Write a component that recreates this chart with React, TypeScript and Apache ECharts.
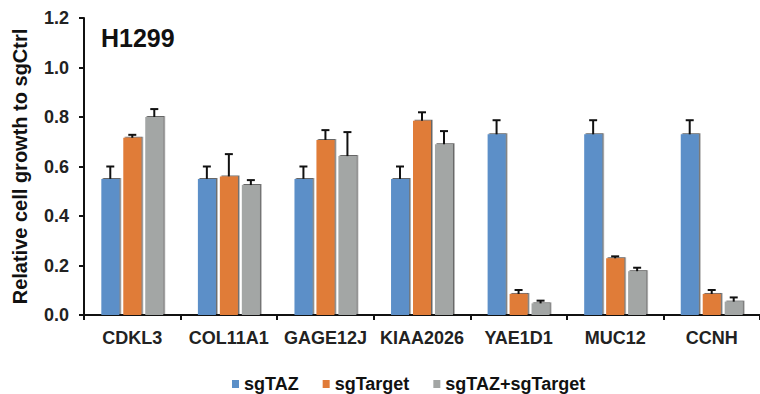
import React, { useEffect, useRef } from "react";
import * as echarts from "echarts";

const categories = ["CDKL3", "COL11A1", "GAGE12J", "KIAA2026", "YAE1D1", "MUC12", "CCNH"];
const seriesNames = ["sgTAZ", "sgTarget", "sgTAZ+sgTarget"];
const colors = ["#5B8FC8", "#E07B39", "#A3A6A5"];

// mean values
const sgTAZ = [0.55, 0.55, 0.55, 0.55, 0.73, 0.73, 0.73];
const sgTarget = [0.716, 0.56, 0.707, 0.785, 0.085, 0.229, 0.085];
const sgCombo = [0.80, 0.525, 0.642, 0.69, 0.047, 0.177, 0.054];

// upper error (SD)
const errTAZ = [0.05, 0.05, 0.05, 0.05, 0.057, 0.057, 0.057];
const errTarget = [0.012, 0.09, 0.04, 0.034, 0.016, 0.008, 0.016];
const errCombo = [0.032, 0.02, 0.097, 0.053, 0.011, 0.014, 0.017];

const yTicks = [0, 0.2, 0.4, 0.6, 0.8, 1.0, 1.2];

const BAR_W = 18;
const BAR_STEP = 22;

export default function App() {
  const ref = useRef<HTMLDivElement>(null);
  useEffect(() => {
    if (!ref.current) return;
    const chart = echarts.init(ref.current, null, { renderer: "svg" });
    const means = [sgTAZ, sgTarget, sgCombo];
    const errs = [errTAZ, errTarget, errCombo];
    const font = "'Liberation Sans', Arial, sans-serif";

    const barSeries = means.map((vals, i) => ({
      name: seriesNames[i],
      type: "bar",
      data: vals,
      barWidth: BAR_W,
      barGap: "22%",
      itemStyle: {
        color: colors[i],
        shadowColor: "rgba(0,0,0,0.6)",
        shadowOffsetX: 1.5,
        shadowOffsetY: -1,
        shadowBlur: 1,
      },
      z: 2,
    }));

    const errSeries = means.map((vals, i) => ({
      name: seriesNames[i],
      type: "custom",
      data: vals.map((v, k) => [k, v, v + errs[i][k]]),
      z: 3,
      renderItem: (params: any, api: any) => {
        const k = api.value(0);
        const lo = api.coord([k, api.value(1)]);
        const hi = api.coord([k, api.value(2)]);
        const x = lo[0] + (i - 1) * BAR_STEP;
        const style = { stroke: "#111", lineWidth: 2 };
        return {
          type: "group",
          children: [
            { type: "line", shape: { x1: x, y1: lo[1], x2: x, y2: hi[1] }, style },
            { type: "line", shape: { x1: x - 4, y1: hi[1], x2: x + 4, y2: hi[1] }, style },
          ],
        };
      },
    }));

    chart.setOption({
      animation: false,
      textStyle: { fontFamily: font },
      grid: { left: 84, top: 18, bottom: 79, width: 682 },
      title: {
        text: "H1299",
        left: 96,
        top: 20,
        textStyle: { fontSize: 25, fontWeight: "bold", color: "#111", fontFamily: font },
      },
      legend: {
        top: 375,
        left: 232,
        padding: 0,
        itemWidth: 7,
        itemHeight: 8,
        itemGap: 24,
        icon: "rect",
        data: seriesNames,
        textStyle: { fontSize: 18, fontWeight: "bold", color: "#111", fontFamily: font },
      },
      xAxis: {
        type: "category",
        data: categories,
        axisLine: { lineStyle: { color: "#111", width: 2 } },
        axisTick: { show: true, length: 5, lineStyle: { color: "#111", width: 2 } },
        axisLabel: { interval: 0, fontSize: 18, fontWeight: "bold", color: "#222", margin: 14, fontFamily: font },
      },
      yAxis: {
        type: "value",
        min: 0,
        max: 1.2,
        interval: 0.2,
        name: "Relative cell growth to sgCtrl",
        nameLocation: "middle",
        nameGap: 54,
        nameTextStyle: { fontSize: 20, fontWeight: "bold", color: "#111", fontFamily: font },
        axisLine: { show: true, lineStyle: { color: "#111", width: 2 } },
        axisTick: { show: true, length: 5, lineStyle: { color: "#111", width: 2 } },
        splitLine: { show: false },
        axisLabel: {
          fontSize: 18,
          fontWeight: "bold",
          color: "#222",
          margin: 15,
          fontFamily: font,
          formatter: (v: number) => (yTicks.some((t) => Math.abs(t - v) < 1e-9) ? v.toFixed(1) : ""),
        },
      },
      series: [...barSeries, ...errSeries],
    });
    return () => chart.dispose();
  }, []);
  return (
    <div
      ref={ref}
      style={{ position: "absolute", left: 0, top: 0, width: 760, height: 394 }}
    />
  );
}
